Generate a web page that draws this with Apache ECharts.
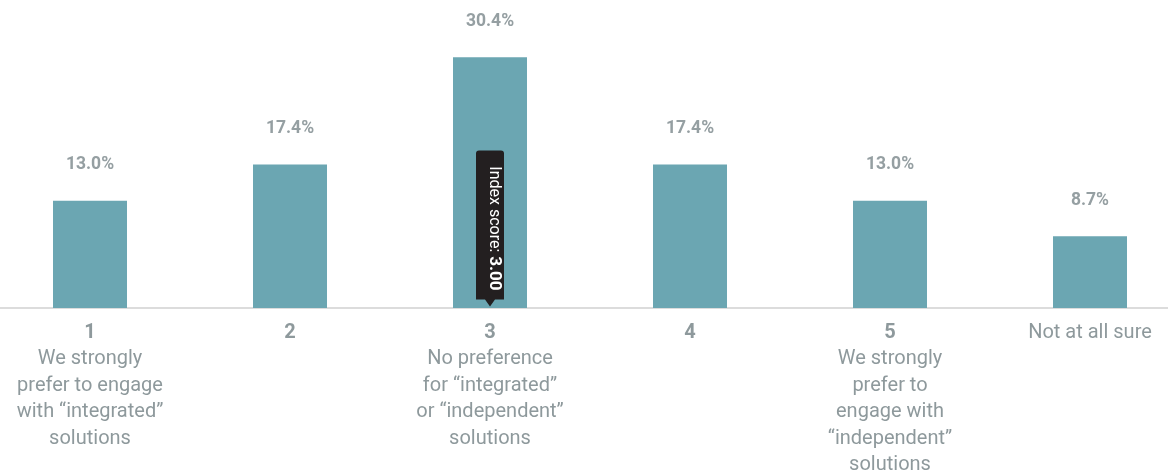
<!DOCTYPE html>
<html>
<head>
<meta charset="utf-8">
<script src="https://cdn.jsdelivr.net/npm/echarts@6/dist/echarts.min.js"></script>
<style>
  html, body { margin: 0; padding: 0; background: #fff; }
  #chart { width: 1168px; height: 473px; }
</style>
</head>
<body>
<div id="chart"></div>
<script>
// chart data
var categories = ['1', '2', '3', '4', '5', 'Not at all sure'];
var descriptions = [
  ['We strongly', 'prefer to engage', 'with “integrated”', 'solutions'],
  [],
  ['No preference', 'for “integrated”', 'or “independent”', 'solutions'],
  [],
  ['We strongly', 'prefer to', 'engage with', '“independent”', 'solutions'],
  []
];
var shares = [13.0, 17.4, 30.4, 17.4, 13.0, 8.7];
var indexScore = 3.00;
var indexCategory = 2;

var myChart = echarts.init(document.getElementById('chart'));

var labelFont = 'Roboto, sans-serif';

var option = {
  animation: false,
  grid: { left: -10, right: -22, top: 11, bottom: 165, outerBoundsMode: 'none', containLabel: false },
  xAxis: {
    type: 'category',
    data: categories,
    axisTick: { show: false },
    axisLine: { lineStyle: { color: '#dcdcdc', width: 2 } },
    axisLabel: {
      interval: 0,
      margin: 12,
      formatter: function (value, idx) {
        var head = value.length > 2 ? '{s|' + value + '}' : '{n|' + value + '}';
        var lines = descriptions[idx].map(function (t) { return '{t|' + t + '}'; });
        return [head].concat(lines).join('\n');
      },
      rich: {
        n: { fontFamily: labelFont, fontSize: 20, fontWeight: 'bold', color: '#8e999c', lineHeight: 26 },
        s: { fontFamily: labelFont, fontSize: 20, color: '#8e999c', lineHeight: 26 },
        t: { fontFamily: labelFont, fontSize: 20, color: '#8e999c', lineHeight: 26.5 }
      }
    }
  },
  yAxis: {
    type: 'value',
    min: 0,
    max: 36,
    show: false,
    splitLine: { show: false }
  },
  series: [{
    type: 'bar',
    data: shares,
    barWidth: 74,
    itemStyle: { color: '#6ba6b2' },
    label: {
      show: true,
      position: 'top',
      distance: 27,
      fontFamily: 'Roboto, sans-serif',
      fontWeight: 'bold',
      fontSize: 17.5,
      color: '#959fa2',
      formatter: function (p) { return p.value.toFixed(1) + '%'; }
    },
    markPoint: {
      silent: true,
      data: [{ coord: [indexCategory, 0] }],
      symbol: 'path://M3,0 H25 Q28,0 28,3 V148 H19 L14,155 L9,148 H0 V3 Q0,0 3,0 Z',
      symbolSize: [28, 156],
      symbolOffset: [0, '-51%'],
      itemStyle: { color: '#231f20' },
      label: {
        show: true,
        position: 'inside',
        rotate: -90,
        offset: [0, -4],
        formatter: '{a|Index score: }{b|' + indexScore.toFixed(2) + '}',
        rich: {
          a: { fontFamily: labelFont, fontSize: 16, color: '#fff' },
          b: { fontFamily: labelFont, fontSize: 17, fontWeight: 'bold', color: '#fff' }
        }
      }
    }
  }]
};

myChart.setOption(option);
</script>
</body>
</html>
